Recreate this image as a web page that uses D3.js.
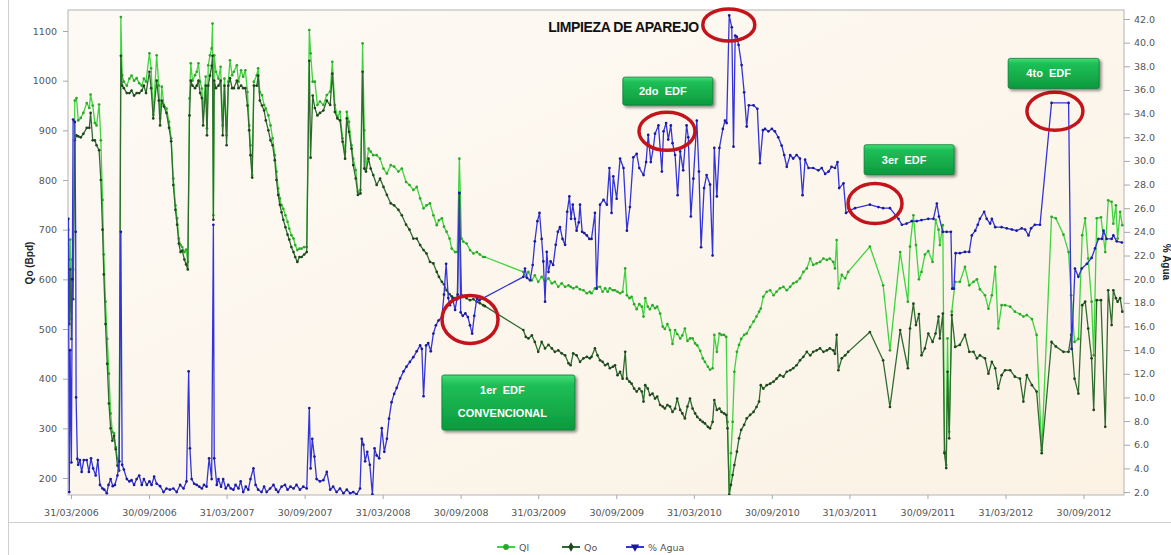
<!DOCTYPE html>
<html><head><meta charset="utf-8">
<script src="https://cdn.jsdelivr.net/npm/d3@7"></script>
<style>
html,body{margin:0;padding:0;background:#fff;}
svg{display:block;}
</style></head><body>
<svg id="chart" width="1171" height="555"></svg>
<script>
// Producción diaria: [fecha, Ql (Bpd), Qo (Bpd)]
const productionRows = [
["2006-03-25",700,640],["2006-03-27",560,510],["2006-03-29",680,620],["2006-04-01",520,480],["2006-04-03",640,600],["2006-04-05",620,560],["2006-04-09",960,880],
["2006-04-13",965,890],["2006-04-17",920,888],["2006-04-23",925,886],["2006-04-29",935,893],["2006-05-07",955,905],["2006-05-13",945,905],["2006-05-16",972,935],["2006-05-21",950,880],["2006-05-26",915,880],["2006-05-30",910,870],
["2006-06-05",952,860],["2006-06-09",880,800],["2006-06-13",760,700],["2006-06-16",650,610],["2006-06-20",555,510],["2006-06-24",480,430],["2006-06-28",410,350],["2006-07-02",330,300],["2006-07-06",293,275],["2006-07-10",290,285],
["2006-07-14",262,258],["2006-07-18",239,225],["2006-07-22",233,215],["2006-07-26",1128,1050],["2006-07-29",1011,990],["2006-08-02",998,985],["2006-08-09",990,975],["2006-08-15",1004,975],["2006-08-20",1010,980],["2006-08-26",1000,970],
["2006-09-01",1005,975],["2006-09-07",995,975],["2006-09-13",990,980],["2006-09-18",1004,990],["2006-09-23",998,975],["2006-10-01",1055,1018],["2006-10-05",1025,985],["2006-10-10",931,924],["2006-10-18",1051,1000],["2006-10-23",990,960],
["2006-10-26",924,910],["2006-10-30",988,960],["2006-11-04",951,948],["2006-11-10",944,935],["2006-11-16",917,905],["2006-11-21",884,878],["2006-11-26",803,790],["2006-12-01",749,740],["2006-12-05",723,710],["2006-12-09",682,672],
["2006-12-13",669,655],["2006-12-17",665,658],["2006-12-22",655,640],["2006-12-26",660,630],["2006-12-30",635,620],
["2007-01-03",964,930],["2007-01-06",1035,1000],["2007-01-10",1000,990],["2007-01-16",1011,985],["2007-01-20",1018,990],["2007-01-24",1035,1000],["2007-01-28",998,975],["2007-02-01",984,965],["2007-02-04",937,910],["2007-02-10",1008,990],
["2007-02-13",904,890],["2007-02-16",1031,990],["2007-02-20",1051,1010],["2007-02-24",1065,1030],["2007-02-26",1115,1050],["2007-02-28",729,720],["2007-03-02",1051,1000],["2007-03-06",1018,985],["2007-03-12",1004,990],["2007-03-17",1028,1000],
["2007-03-22",910,890],["2007-03-26",1004,990],["2007-03-31",890,870],["2007-04-04",998,990],["2007-04-08",1041,1005],["2007-04-13",1011,985],["2007-04-17",1018,985],["2007-04-24",1031,1000],["2007-04-28",998,985],["2007-05-04",1021,990],
["2007-05-09",1008,985],["2007-05-14",1021,985],["2007-05-19",977,950],["2007-05-23",910,900],["2007-05-26",870,850],["2007-05-30",810,805],["2007-06-03",998,990],["2007-06-10",1011,990],["2007-06-13",1025,1010],["2007-06-17",977,960],
["2007-06-22",971,950],["2007-06-27",951,940],["2007-07-01",944,920],["2007-07-07",930,900],["2007-07-12",910,880],["2007-07-17",884,870],["2007-07-22",850,840],["2007-07-26",817,800],["2007-07-30",783,770],["2007-08-03",763,750],
["2007-08-07",749,735],["2007-08-11",742,720],["2007-08-16",729,705],["2007-08-21",716,690],["2007-08-25",702,680],["2007-08-30",689,665],["2007-09-04",682,655],["2007-09-08",669,645],["2007-09-13",659,635],["2007-09-18",662,645],
["2007-09-23",662,645],["2007-09-29",665,650],["2007-10-05",665,655],["2007-10-11",1102,1040],["2007-10-14",1055,845],["2007-10-19",998,970],["2007-10-24",998,945],["2007-10-30",951,930],["2007-11-05",958,935],["2007-11-13",951,940],
["2007-11-21",971,960],["2007-11-29",978,951],["2007-12-04",1038,1014],["2007-12-10",951,937],["2007-12-16",927,924],["2007-12-22",937,920],["2007-12-28",884,877],
["2008-01-03",857,843],["2008-01-07",937,924],["2008-01-12",917,897],["2008-01-18",870,863],["2008-01-22",843,830],["2008-01-28",820,803],["2008-02-02",776,770],["2008-02-08",780,773],["2008-02-13",1075,1018],["2008-02-17",900,823],
["2008-02-21",823,817],["2008-02-27",863,843],["2008-03-03",857,823],["2008-03-09",850,810],["2008-03-17",850,790],["2008-03-25",843,803],["2008-04-02",823,786],["2008-04-10",813,770],["2008-04-19",830,753],["2008-04-27",827,749],
["2008-05-07",817,740],["2008-05-15",823,729],["2008-05-25",796,710],["2008-06-02",790,700],["2008-06-11",780,682],["2008-06-19",786,682],["2008-06-27",763,669],["2008-07-05",743,659],["2008-07-12",749,652],["2008-07-20",753,635],
["2008-07-28",729,632],["2008-08-05",709,615],["2008-08-10",719,605],["2008-08-17",723,595],["2008-08-22",706,590],["2008-08-28",696,578],["2008-09-04",682,570],["2008-09-09",662,566],["2008-09-17",655,562],["2008-09-22",655,560],
["2008-09-27",843,773],["2008-10-02",682,568],["2008-10-06",676,565],["2008-10-14",672,562],["2008-10-22",659,558],["2008-10-30",652,560],["2008-11-07",655,555],["2008-11-14",650,552],["2008-11-22",645,548],["2008-11-26",645,546],
["2009-02-24",615,498],["2009-03-02",605,484],["2009-03-08",615,481],["2009-03-16",598,487],["2009-03-23",608,474],["2009-03-31",595,454],["2009-04-08",605,474],["2009-04-16",595,461],["2009-04-24",602,468],["2009-05-02",592,461],
["2009-05-09",595,454],["2009-05-17",585,457],["2009-05-25",592,451],["2009-06-02",585,447],["2009-06-10",588,431],["2009-06-15",585,427],["2009-06-21",582,451],["2009-06-29",585,447],["2009-07-07",580,434],["2009-07-15",578,441],
["2009-07-23",572,444],["2009-07-30",575,441],["2009-08-03",572,444],["2009-08-11",582,461],["2009-08-17",585,447],["2009-08-23",585,437],["2009-08-29",575,434],["2009-09-04",582,427],["2009-09-10",575,430],["2009-09-15",582,421],
["2009-09-22",578,424],["2009-09-27",578,427],["2009-10-03",575,407],["2009-10-09",572,414],["2009-10-15",575,400],["2009-10-21",622,454],["2009-10-25",568,400],["2009-10-31",562,394],["2009-11-05",565,390],["2009-11-11",550,380],
["2009-11-17",540,374],["2009-11-23",550,380],["2009-11-29",545,374],["2009-12-03",525,354],["2009-12-07",562,387],["2009-12-13",545,380],["2009-12-18",540,367],["2009-12-24",548,370],["2009-12-30",542,360],
["2010-01-04",545,364],["2010-01-11",531,347],["2010-01-17",505,344],["2010-01-22",500,340],["2010-01-28",510,347],["2010-02-03",498,344],["2010-02-09",470,333],["2010-02-15",498,340],["2010-02-20",490,360],["2010-02-27",481,337],
["2010-03-04",487,330],["2010-03-10",501,320],["2010-03-16",476,344],["2010-03-22",481,360],["2010-03-28",481,340],["2010-04-03",471,330],["2010-04-08",467,323],["2010-04-15",456,317],["2010-04-21",441,313],["2010-04-26",434,310],
["2010-05-03",424,303],["2010-05-08",418,300],["2010-05-14",421,313],["2010-05-18",488,357],["2010-05-24",454,337],["2010-05-30",491,340],["2010-06-04",488,333],["2010-06-10",488,330],["2010-06-15",484,327],["2010-06-18",313,300],
["2010-06-22",166,166],["2010-06-26",250,186],["2010-06-30",313,206],["2010-07-04",414,226],["2010-07-10",454,253],["2010-07-15",468,280],["2010-07-20",480,297],["2010-07-27",488,307],["2010-08-02",491,320],["2010-08-10",504,327],
["2010-08-18",515,333],["2010-08-25",525,343],["2010-08-31",535,354],["2010-09-04",541,387],["2010-09-10",565,380],["2010-09-18",575,387],["2010-09-26",578,390],["2010-10-04",568,394],["2010-10-11",575,400],["2010-10-19",582,407],
["2010-10-27",585,404],["2010-11-04",578,414],["2010-11-12",585,417],["2010-11-19",592,421],["2010-11-27",595,427],["2010-12-05",602,437],["2010-12-13",615,444],["2010-12-21",622,454],["2010-12-29",642,447],
["2011-01-05",629,454],["2011-01-13",632,457],["2011-01-21",635,461],["2011-01-29",642,454],["2011-02-06",639,457],["2011-02-13",642,461],["2011-02-21",635,457],["2011-02-25",622,450],["2011-03-01",679,488],["2011-03-05",582,417],
["2011-03-13",609,441],["2011-03-21",602,447],["2011-03-28",615,454],["2011-05-18",666,494],["2011-06-18",588,437],["2011-07-04",457,343],["2011-07-28",655,498],["2011-08-15",555,421],["2011-08-20",666,501],["2011-08-28",729,551],
["2011-09-03",669,508],["2011-09-10",600,530],["2011-09-16",615,447],["2011-09-24",650,461],["2011-10-02",657,491],["2011-10-12",635,474],["2011-10-19",720,491],["2011-10-26",700,525],["2011-10-29",669,481],["2011-11-05",709,531],
["2011-11-09",253,250],["2011-11-13",226,220],["2011-11-16",481,414],["2011-11-20",293,280],["2011-11-26",535,528],["2011-12-04",595,464],["2011-12-15",595,468],["2011-12-27",625,488],
["2012-01-06",588,454],["2012-01-16",595,454],["2012-01-24",600,441],["2012-01-31",580,447],["2012-02-12",568,441],["2012-02-20",541,410],["2012-02-28",568,434],["2012-03-07",625,421],["2012-03-14",501,380],["2012-03-22",548,407],
["2012-03-30",548,417],["2012-04-11",545,417],["2012-04-22",535,404],["2012-05-04",530,400],["2012-05-12",525,354],["2012-05-20",528,407],["2012-06-01",520,387],["2012-06-12",488,374],["2012-06-24",256,250],["2012-07-17",726,474],
["2012-07-27",723,465],["2012-08-14",690,454],["2012-08-26",655,454],["2012-09-01",568,488],["2012-09-09",474,400],["2012-09-18",480,370],["2012-09-27",689,548],["2012-10-04",723,555],["2012-10-11",642,501],["2012-10-19",555,441],
["2012-10-24",447,337],["2012-10-31",723,558],["2012-11-10",725,558],["2012-11-20",655,303],["2012-11-27",759,578],["2012-12-05",756,508],["2012-12-09",712,578],["2012-12-15",749,562],["2012-12-19",682,555],["2012-12-25",736,562],
["2012-12-30",709,535]
];

// Corte de agua: [fecha, % Agua]
const waterCutRows = [
["2006-03-25",25.1],["2006-03-27",2.0],["2006-03-29",14.0],["2006-04-01",4.5],["2006-04-03",20.0],["2006-04-05",33.5],["2006-04-09",33.3],["2006-04-11",24.0],["2006-04-12",10.0],["2006-04-15",4.8],
["2006-04-17",4.3],["2006-04-21",4.7],["2006-04-25",3.7],["2006-04-30",4.7],["2006-05-07",4.7],["2006-05-12",3.7],["2006-05-17",4.85],["2006-05-22",4.0],["2006-05-28",3.4],["2006-06-02",4.7],
["2006-06-07",2.6],["2006-06-13",2.3],["2006-06-17",2.2],["2006-06-23",1.9],["2006-06-27",2.6],["2006-07-02",3.1],["2006-07-07",2.5],["2006-07-12",2.6],["2006-07-18",3.4],["2006-07-22",4.6],
["2006-07-26",24.0],["2006-07-29",4.3],["2006-08-02",3.9],["2006-08-09",3.1],["2006-08-15",2.9],["2006-08-20",3.0],["2006-08-26",2.6],["2006-09-01",3.1],["2006-09-07",3.4],["2006-09-13",2.6],
["2006-09-18",3.1],["2006-09-25",2.6],["2006-10-01",2.9],["2006-10-06",2.6],["2006-10-12",3.3],["2006-10-18",2.7],["2006-10-26",2.5],["2006-11-03",2.0],["2006-11-10",2.3],["2006-11-18",2.2],
["2006-11-26",2.3],["2006-12-04",2.0],["2006-12-12",2.6],["2006-12-20",2.3],["2006-12-27",2.9],["2007-01-01",12.2],["2007-01-04",5.7],["2007-01-08",3.1],["2007-01-14",2.7],["2007-01-20",2.6],
["2007-01-26",2.45],["2007-02-01",2.3],["2007-02-06",2.6],["2007-02-12",2.45],["2007-02-18",4.85],["2007-02-24",3.1],["2007-02-28",24.6],["2007-03-02",4.85],["2007-03-08",2.6],["2007-03-12",3.1],
["2007-03-18",2.45],["2007-03-23",3.1],["2007-03-29",2.3],["2007-04-04",2.6],["2007-04-10",2.3],["2007-04-16",2.2],["2007-04-21",2.6],["2007-04-28",2.3],["2007-05-03",2.9],["2007-05-09",2.0],
["2007-05-15",2.45],["2007-05-21",2.2],["2007-05-26",3.1],["2007-06-02",4.0],["2007-06-07",2.6],["2007-06-13",2.2],["2007-06-21",2.0],["2007-06-27",2.45],["2007-07-03",2.0],["2007-07-11",2.3],
["2007-07-19",2.6],["2007-07-25",2.2],["2007-07-30",2.0],["2007-08-07",2.45],["2007-08-15",2.6],["2007-08-21",2.2],["2007-08-28",2.45],["2007-09-04",2.3],["2007-09-11",2.6],["2007-09-19",2.2],
["2007-09-27",2.45],["2007-10-05",2.3],["2007-10-11",9.1],["2007-10-14",4.0],["2007-10-18",6.5],["2007-10-23",5.0],["2007-10-28",3.1],["2007-11-05",2.9],["2007-11-13",3.0],["2007-11-21",3.7],
["2007-11-29",2.2],["2007-12-06",2.45],["2007-12-14",2.0],["2007-12-22",2.3],["2007-12-30",1.9],["2008-01-07",2.2],["2008-01-15",1.9],["2008-01-22",2.0],["2008-01-30",1.8],["2008-02-07",2.3],
["2008-02-11",6.5],["2008-02-15",6.0],["2008-02-19",4.6],["2008-02-24",5.4],["2008-03-01",4.3],["2008-03-07",1.8],["2008-03-12",5.7],["2008-03-17",5.1],["2008-03-23",4.85],["2008-03-29",7.4],
["2008-04-04",5.4],["2008-04-10",6.5],["2008-04-15",8.2],["2008-04-21",9.6],["2008-04-27",10.3],["2008-05-03",10.8],["2008-05-11",11.6],["2008-05-19",12.2],["2008-05-26",12.6],["2008-06-03",13.0],
["2008-06-11",13.4],["2008-06-19",13.9],["2008-06-27",14.4],["2008-07-01",14.1],["2008-07-05",10.1],["2008-07-11",14.4],["2008-07-16",14.6],["2008-07-22",13.9],["2008-07-28",15.4],["2008-08-03",16.1],
["2008-08-09",16.5],["2008-08-17",16.8],["2008-08-22",18.7],["2008-08-27",21.3],["2008-09-01",18.4],["2008-09-05",17.8],["2008-09-11",18.4],["2008-09-17",17.4],["2008-09-23",18.7],["2008-09-27",27.3],
["2008-09-30",17.2],["2008-10-05",16.9],["2008-10-11",17.1],["2008-10-17",16.8],["2008-10-22",16.1],["2008-10-27",15.4],["2008-11-01",16.9],["2008-11-07",18.4],["2008-11-13",18.2],["2008-11-22",18.4],
["2009-02-24",20.2],["2009-02-28",20.9],["2009-03-05",20.1],["2009-03-12",19.9],["2009-03-18",21.2],["2009-03-23",23.2],["2009-03-29",24.9],["2009-04-03",25.6],["2009-04-08",23.4],["2009-04-12",21.5],
["2009-04-16",18.1],["2009-04-20",22.3],["2009-04-24",20.6],["2009-04-29",21.5],["2009-05-05",21.2],["2009-05-11",22.9],["2009-05-16",24.0],["2009-05-21",24.4],["2009-05-27",23.4],["2009-06-02",22.9],
["2009-06-07",25.7],["2009-06-12",27.0],["2009-06-16",25.1],["2009-06-20",26.3],["2009-06-25",25.1],["2009-06-29",24.1],["2009-07-04",24.8],["2009-07-07",26.3],["2009-07-12",24.0],["2009-07-17",23.9],
["2009-07-23",23.7],["2009-07-29",23.4],["2009-08-03",23.4],["2009-08-11",25.6],["2009-08-15",19.2],["2009-08-23",26.3],["2009-08-31",26.7],["2009-09-08",26.3],["2009-09-14",29.4],["2009-09-19",25.6],
["2009-09-23",28.7],["2009-10-01",26.8],["2009-10-09",30.2],["2009-10-17",29.4],["2009-10-25",24.1],["2009-11-01",26.1],["2009-11-09",30.3],["2009-11-17",30.6],["2009-11-23",29.4],["2009-12-03",28.8],
["2009-12-09",29.9],["2009-12-14",32.2],["2009-12-20",29.9],["2009-12-26",31.1],["2009-12-30",32.3],["2010-01-07",33.0],["2010-01-15",29.1],["2010-01-19",32.5],["2010-01-25",33.2],["2010-01-30",31.8],
["2010-02-05",33.0],["2010-02-09",31.5],["2010-02-15",30.5],["2010-02-21",27.1],["2010-02-27",30.8],["2010-03-06",29.2],["2010-03-14",33.0],["2010-03-18",32.0],["2010-03-24",25.3],["2010-03-30",28.5],
["2010-04-07",33.4],["2010-04-12",29.1],["2010-04-17",22.7],["2010-04-24",27.7],["2010-04-30",28.8],["2010-05-08",28.0],["2010-05-14",22.0],["2010-05-18",31.1],["2010-05-24",27.0],["2010-05-30",31.1],
["2010-06-07",32.7],["2010-06-12",33.4],["2010-06-16",33.2],["2010-06-22",42.3],["2010-06-28",41.3],["2010-07-02",31.2],["2010-07-06",40.6],["2010-07-10",40.5],["2010-07-14",39.8],["2010-07-21",38.1],
["2010-07-27",35.8],["2010-08-02",32.9],["2010-08-07",34.7],["2010-08-18",34.7],["2010-08-27",34.4],["2010-09-02",29.8],["2010-09-09",32.6],["2010-09-14",32.7],["2010-09-22",32.5],["2010-09-30",32.7],
["2010-10-07",32.5],["2010-10-15",32.0],["2010-10-23",31.3],["2010-10-29",30.5],["2010-11-04",29.5],["2010-11-12",30.5],["2010-11-19",30.2],["2010-11-27",30.5],["2010-12-05",30.2],["2010-12-11",27.1],
["2010-12-17",30.1],["2010-12-25",29.4],["2011-01-05",29.4],["2011-01-17",29.2],["2011-01-25",29.4],["2011-02-02",28.9],["2011-02-10",29.1],["2011-02-17",29.5],["2011-02-25",29.4],["2011-03-03",29.9],
["2011-03-07",27.7],["2011-03-17",28.1],["2011-03-23",25.6],["2011-04-01",25.8],["2011-04-13",26.0],["2011-05-18",26.3],["2011-06-07",26.1],["2011-06-18",26.0],["2011-07-04",26.0],["2011-07-24",25.1],
["2011-08-01",24.6],["2011-08-12",24.7],["2011-08-24",24.9],["2011-09-05",24.9],["2011-09-16",25.0],["2011-10-02",25.1],["2011-10-14",25.1],["2011-10-22",26.4],["2011-10-27",25.3],["2011-11-05",24.0],
["2011-11-14",24.0],["2011-11-24",24.0],["2011-11-27",19.2],["2011-12-01",19.2],["2011-12-05",22.2],["2011-12-15",22.2],["2011-12-27",22.3],["2012-01-06",22.3],["2012-01-12",23.7],["2012-01-20",24.1],
["2012-01-26",24.6],["2012-01-31",25.1],["2012-02-10",25.7],["2012-02-16",25.1],["2012-02-24",24.7],["2012-02-28",25.1],["2012-03-07",24.4],["2012-03-22",24.4],["2012-04-03",24.3],["2012-04-15",24.2],
["2012-04-26",24.1],["2012-05-08",24.3],["2012-05-16",24.2],["2012-05-24",23.7],["2012-05-30",24.3],["2012-06-08",24.6],["2012-06-20",24.6],["2012-07-17",34.9],["2012-08-26",34.9],["2012-09-02",14.1],
["2012-09-10",20.9],["2012-09-18",20.2],["2012-09-26",20.9],["2012-10-08",21.3],["2012-10-19",21.8],["2012-10-27",22.6],["2012-11-04",23.4],["2012-11-12",23.4],["2012-11-16",24.1],["2012-11-23",23.4],
["2012-12-05",23.4],["2012-12-09",23.7],["2012-12-17",23.2],["2012-12-29",23.1]
];

const seriesNames = ["Ql", "Qo", "% Agua"];
const leftTicks = [200, 300, 400, 500, 600, 700, 800, 900, 1000, 1100];
const rightTicks = [2, 4, 6, 8, 10, 12, 14, 16, 18, 20, 22, 24, 26, 28, 30, 32, 34, 36, 38, 40, 42];
const dateTicks = ["2006-03-31","2006-09-30","2007-03-31","2007-09-30","2008-03-31","2008-09-30","2009-03-31",
                   "2009-09-30","2010-03-31","2010-09-30","2011-03-31","2011-09-30","2012-03-31","2012-09-30"];
const dateRange = ["2006-03-24", "2013-01-03"];
const leftRange = [165.8, 1142.3];
const rightRange = [1.75, 42.76];

// Eventos del pozo: texto, fecha y % de agua donde se marcan
const eventLabels = [["1er  EDF", "CONVENCIONAL"], ["2do  EDF"], ["3er  EDF"], ["4to  EDF"]];
const eventRingDates = ["2008-10-22", "2010-01-27", "2011-05-30", "2012-07-25"];
const eventRingLevels = [16.6, 32.5, 26.4, 34.2];
const eventBoxDates = ["2009-01-20", "2010-01-29", "2011-08-18", "2012-07-22"];
const eventBoxLevels = [9.57, 35.9, 30.1, 37.4];
const cleanupLabel = "LIMPIEZA DE APAREJO";
const cleanupDate = "2010-06-21";
const cleanupLevel = 41.5;

// ---------------------------------------------------------------
const parse = d3.utcParse("%Y-%m-%d");
const plot = {left: 68, right: 1124, top: 10, bottom: 495};
const svg = d3.select("#chart");

const x = d3.scaleUtc().domain(dateRange.map(parse)).range([plot.left, plot.right]);
const yL = d3.scaleLinear().domain(leftRange).range([plot.bottom, plot.top]);
const yR = d3.scaleLinear().domain(rightRange).range([plot.bottom, plot.top]);

const colors = {
  ql: {line: "#3fd43f", dot: "#2fa52f"},
  qo: {line: "#2f6b2f", dot: "#1d461d"},
  agua: {line: "#3434d6", dot: "#1a1a9c"}
};

const defs = svg.append("defs");
const bg = defs.append("linearGradient").attr("id", "plotBg").attr("x1", 0).attr("y1", 0).attr("x2", 1).attr("y2", 1);
bg.append("stop").attr("offset", "0%").attr("stop-color", "#fdfaf5");
bg.append("stop").attr("offset", "100%").attr("stop-color", "#fbf2e4");
const boxGrad = defs.append("linearGradient").attr("id", "boxGrad").attr("x1", 0).attr("y1", 0).attr("x2", 0).attr("y2", 1);
boxGrad.append("stop").attr("offset", "0%").attr("stop-color", "#45dd78");
boxGrad.append("stop").attr("offset", "18%").attr("stop-color", "#1fbf57");
boxGrad.append("stop").attr("offset", "100%").attr("stop-color", "#0c9a3e");
const shadow = defs.append("filter").attr("id", "boxShadow").attr("x", "-20%").attr("y", "-20%").attr("width", "150%").attr("height", "160%");
shadow.append("feGaussianBlur").attr("in", "SourceAlpha").attr("stdDeviation", 1.5);
shadow.append("feOffset").attr("dx", 1.5).attr("dy", 2).attr("result", "off");
shadow.append("feComponentTransfer").append("feFuncA").attr("type", "linear").attr("slope", 0.45);
const merge = shadow.append("feMerge");
merge.append("feMergeNode");
merge.append("feMergeNode").attr("in", "SourceGraphic");
defs.append("clipPath").attr("id", "plotClip").append("rect")
  .attr("x", plot.left).attr("y", plot.top).attr("width", plot.right - plot.left).attr("height", plot.bottom - plot.top);

// outer chart frame
svg.append("line").attr("x1", 8.5).attr("x2", 8.5).attr("y1", 0).attr("y2", 555).attr("stroke", "#cfcfcf");
svg.append("line").attr("x1", 8).attr("x2", 1171).attr("y1", 522.5).attr("y2", 522.5).attr("stroke", "#cfcfcf");

// plot area
svg.append("rect").attr("x", plot.left).attr("y", plot.top)
  .attr("width", plot.right - plot.left).attr("height", plot.bottom - plot.top)
  .attr("fill", "url(#plotBg)").attr("stroke", "#b4b4b4").attr("stroke-width", 1);

const tickFont = "'DejaVu Sans', Verdana, sans-serif";

const gLeft = svg.append("g").attr("transform", `translate(${plot.left},0)`)
  .call(d3.axisLeft(yL).tickValues(leftTicks).tickSize(5).tickPadding(6).tickFormat(d3.format("d")));
const gRight = svg.append("g").attr("transform", `translate(${plot.right},0)`)
  .call(d3.axisRight(yR).tickValues(rightTicks).tickSize(6).tickPadding(4).tickFormat(d3.format(".1f")));
const gBottom = svg.append("g").attr("transform", `translate(0,${plot.bottom})`)
  .call(d3.axisBottom(x).tickValues(dateTicks.map(parse)).tickSize(4).tickPadding(10).tickFormat(d3.utcFormat("%d/%m/%Y")));
[gLeft, gRight, gBottom].forEach(g => {
  g.select(".domain").remove();
  g.selectAll(".tick line").attr("stroke", "#a8a8a8");
  g.selectAll(".tick text").attr("fill", "#555").style("font-family", tickFont).style("font-size", "9.5px");
});

// axis titles
svg.append("text").attr("transform", "translate(33,263) rotate(-90)").attr("text-anchor", "middle")
  .style("font-family", "'Liberation Sans', Arial, sans-serif").style("font-weight", "bold").style("font-size", "10px")
  .attr("fill", "#222").text("Qo (Bpd)");
svg.append("text").attr("transform", "translate(1163,262) rotate(90)").attr("text-anchor", "middle")
  .style("font-family", "'Liberation Sans', Arial, sans-serif").style("font-weight", "bold").style("font-size", "10px")
  .attr("fill", "#222").text("% Agua");

// series
const prod = productionRows.map(r => ({date: parse(r[0]), ql: r[1], qo: r[2]}));
const water = waterCutRows.map(r => ({date: parse(r[0]), v: r[1]}));
const marks = svg.append("g").attr("clip-path", "url(#plotClip)");

function drawSeries(data, yFn, c, shape) {
  marks.append("path").datum(data)
    .attr("fill", "none").attr("stroke", c.line).attr("stroke-width", 1.3).attr("stroke-linejoin", "round")
    .attr("d", d3.line().x(d => x(d.date)).y(yFn));
  marks.append("g").selectAll("circle").data(data).join("circle")
    .attr("cx", d => x(d.date)).attr("cy", yFn).attr("r", 1.35).attr("fill", c.dot);
}
drawSeries(prod, d => yL(d.ql), colors.ql);
drawSeries(prod, d => yL(d.qo), colors.qo);
drawSeries(water, d => yR(d.v), colors.agua);

// annotations
const ann = svg.append("g");
const ringSizes = [[28, 24], [28, 19], [27, 20], [28, 19]];
const boxSizes = [[133, 55], [90, 28], [90, 30], [91, 30]];
eventLabels.forEach((lines, i) => {
  const cx = x(parse(eventRingDates[i])), cy = yR(eventRingLevels[i]);
  ann.append("ellipse").attr("cx", cx).attr("cy", cy).attr("rx", ringSizes[i][0]).attr("ry", ringSizes[i][1])
    .attr("fill", "none").attr("stroke", "#c3141b").attr("stroke-width", 3.5);
  const bx = x(parse(eventBoxDates[i])), by = yR(eventBoxLevels[i]);
  const [bw, bh] = boxSizes[i];
  const g = ann.append("g").attr("transform", `translate(${bx - bw / 2},${by - bh / 2})`);
  g.append("rect").attr("width", bw).attr("height", bh).attr("rx", 2)
    .attr("fill", "url(#boxGrad)").attr("stroke", "#0b7a34").attr("stroke-width", 0.8).attr("filter", "url(#boxShadow)");
  const t = g.append("text").attr("text-anchor", "middle").attr("fill", "#fff")
    .style("font-family", "'Liberation Sans', Arial, sans-serif").style("font-weight", "bold").style("font-size", "11px")
    .style("white-space", "pre");
  lines.forEach((ln, k) => {
    t.append("tspan").attr("x", bw / 2 - (lines.length > 1 ? 6 : 5))
      .attr("y", lines.length > 1 ? 19 + k * 23 : bh / 2 + 4).text(ln);
  });
});
ann.append("ellipse").attr("cx", x(parse(cleanupDate))).attr("cy", yR(cleanupLevel)).attr("rx", 26).attr("ry", 16)
  .attr("fill", "none").attr("stroke", "#c3141b").attr("stroke-width", 3.5);
ann.append("text").attr("x", x(parse(cleanupDate)) - 30).attr("y", 32).attr("text-anchor", "end")
  .style("font-family", "'Liberation Sans Narrow', 'Arial Narrow', 'Liberation Sans', sans-serif")
  .style("font-weight", "bold").style("font-size", "14px").style("letter-spacing", "-0.4px")
  .attr("fill", "#111").text(cleanupLabel);

// legend
const legend = svg.append("g").attr("transform", "translate(0,547)");
const legendItems = [
  {name: seriesNames[0], c: colors.ql, x: 497, shape: "circle"},
  {name: seriesNames[1], c: colors.qo, x: 562, shape: "diamond"},
  {name: seriesNames[2], c: colors.agua, x: 626, shape: "triangle"}
];
legendItems.forEach(it => {
  const g = legend.append("g").attr("transform", `translate(${it.x},0)`);
  g.append("line").attr("x1", 0).attr("x2", 18).attr("stroke", it.c.line).attr("stroke-width", 2);
  const sym = it.shape === "circle" ? d3.symbolCircle : it.shape === "diamond" ? d3.symbolDiamond : d3.symbolTriangle;
  g.append("path").attr("d", d3.symbol(sym, it.shape === "triangle" ? 30 : 26)())
    .attr("transform", `translate(9,0) ${it.shape === "triangle" ? "rotate(180)" : ""}`).attr("fill", it.c.dot);
  g.append("text").attr("x", 22).attr("y", 3.5).attr("fill", "#555")
    .style("font-family", tickFont).style("font-size", "9.5px").text(it.name);
});
</script>
</body></html>
